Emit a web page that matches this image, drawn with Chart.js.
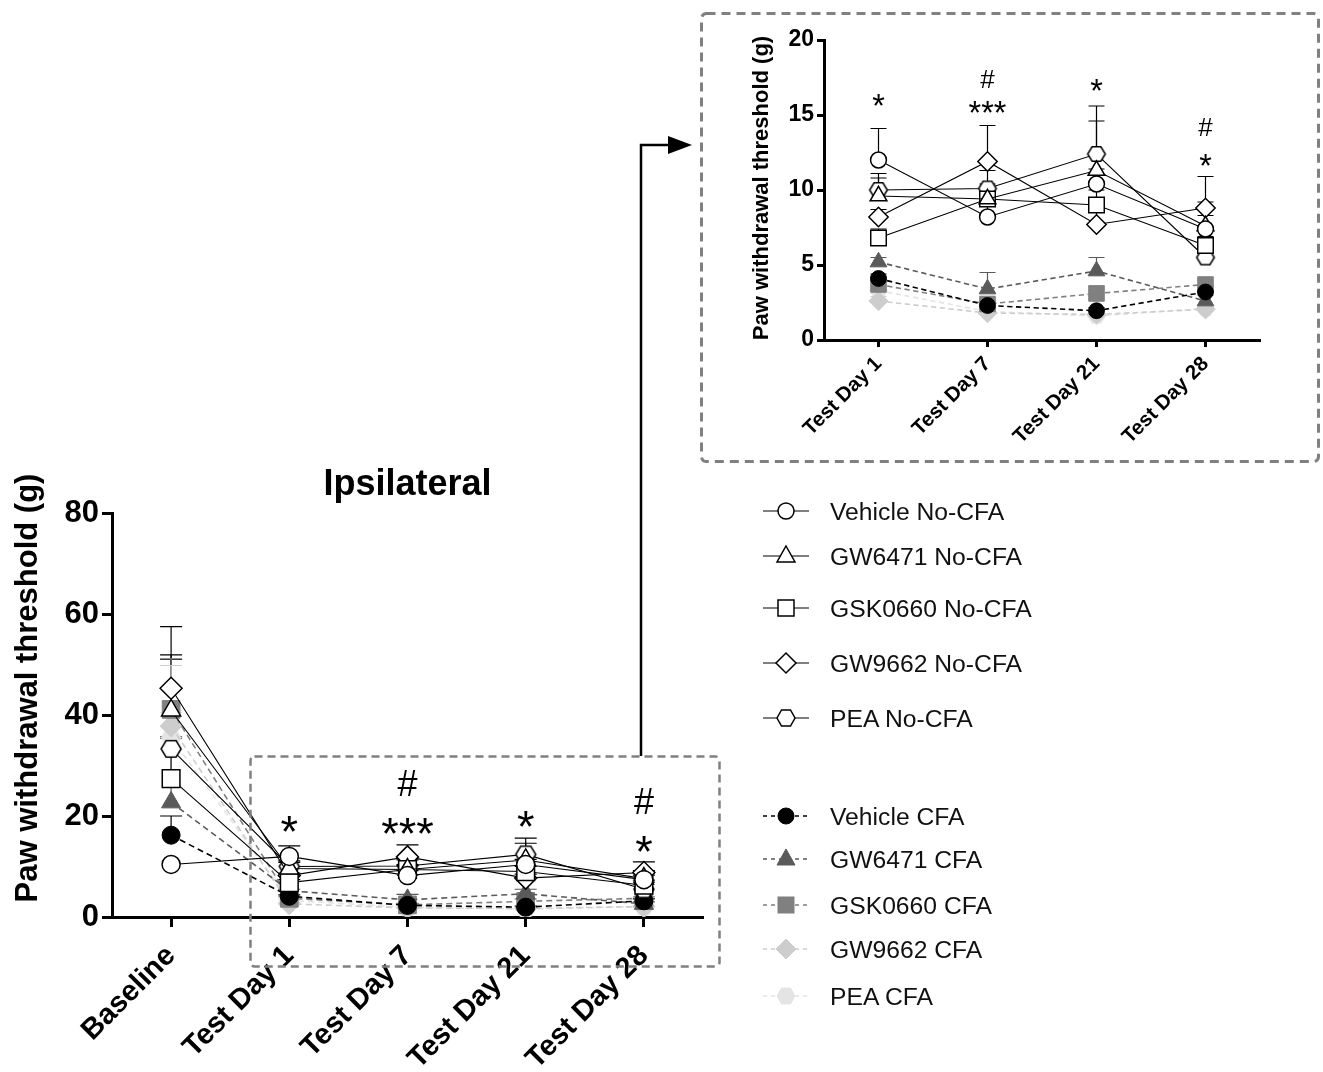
<!DOCTYPE html>
<html>
<head>
<meta charset="utf-8">
<script src="https://cdn.jsdelivr.net/npm/chart.js@4.4.0/dist/chart.umd.min.js"></script>
<style>
  body { margin: 0; background: #fff; }
  #page { position: relative; width: 1323px; height: 1072px; overflow: hidden; background: #fff; }
  #mainChart { position: absolute; left: 0; top: 440px; }
  #insetChart { position: absolute; left: 700px; top: 10px; }
  #deco { position: absolute; left: 0; top: 0; }
</style>
</head>
<body>
<div id="page">
  <canvas id="mainChart" width="720" height="632"></canvas>
  <canvas id="insetChart" width="622" height="455"></canvas>
  <svg id="deco" width="1323" height="1072" xmlns="http://www.w3.org/2000/svg">
    <rect x="701.5" y="13.5" width="617" height="448" rx="5" fill="none" stroke="#808080" stroke-width="3" stroke-dasharray="9 6"/>
    <rect x="250.5" y="756.5" width="469" height="210" rx="4" fill="none" stroke="#808080" stroke-width="2.5" stroke-dasharray="8 5"/>
    <polyline points="641,756 641,145 672,145" fill="none" stroke="#000" stroke-width="2.5"/>
    <polygon points="692,145 668,136 668,154" fill="#000"/>
    <g id="legend"></g>
  </svg>
</div>
<script>
const FONT = '"Liberation Sans", Arial, sans-serif';

// time points
const timepoints = ['Baseline', 'Test Day 1', 'Test Day 7', 'Test Day 21', 'Test Day 28'];

// group means (g)
const vehicleNoCfa = [10.4, 12.0, 8.2, 10.4, 7.4];
const gw6471NoCfa  = [40.9, 9.6, 9.4, 11.3, 7.6];
const gsk0660NoCfa = [27.4, 6.8, 9.4, 9.0, 6.3];
const gw9662NoCfa  = [45.3, 8.2, 11.9, 7.7, 8.8];
const peaNoCfa     = [33.3, 10.0, 10.1, 12.4, 5.5];
const vehicleCfa   = [16.2, 4.1, 2.3, 1.95, 3.2];
const gw6471Cfa    = [22.7, 5.2, 3.4, 4.6, 2.6];
const gsk0660Cfa   = [41.1, 3.7, 2.4, 3.1, 3.7];
const gw9662Cfa    = [37.8, 2.6, 1.8, 1.7, 2.05];
const peaCfa       = [35.5, 3.3, 1.9, 1.6, 2.1];

// upper error bars (SEM)
const vehicleNoCfaErr = [0, 2.1, 1.0, 1.0, 0.9];
const gw6471NoCfaErr  = [11.0, 1.5, 1.0, 3.3, 1.6];
const gsk0660NoCfaErr = [8.0, 0.6, 0.8, 1.0, 1.0];
const gw9662NoCfaErr  = [12.2, 0.5, 2.4, 0.8, 2.1];
const peaNoCfaErr     = [17.7, 0.8, 1.2, 3.2, 1.4];
const vehicleCfaErr   = [3.8, 0.3, 0.3, 0.2, 0.4];
const gw6471CfaErr    = [13.0, 0.3, 1.1, 0.9, 0.4];
const gsk0660CfaErr   = [10.0, 0.3, 0.3, 0.5, 0.3];
const gw9662CfaErr    = [12.0, 0.3, 0.2, 0.2, 0.2];
const peaCfaErr       = [5.0, 0.3, 0.2, 0.2, 0.2];

// significance marks per time point
const starMarks = ['', '*', '***', '*', '*'];
const hashMarks = ['', '', '#', '', '#'];

const groups = [
  {label: 'Vehicle No-CFA', mean: vehicleNoCfa, err: vehicleNoCfaErr, shape: 'circle',   color: '#000', fill: '#fff', dashed: false},
  {label: 'GW6471 No-CFA',  mean: gw6471NoCfa,  err: gw6471NoCfaErr,  shape: 'triangle', color: '#000', fill: '#fff', dashed: false},
  {label: 'GSK0660 No-CFA', mean: gsk0660NoCfa, err: gsk0660NoCfaErr, shape: 'rect',     color: '#000', fill: '#fff', dashed: false},
  {label: 'GW9662 No-CFA',  mean: gw9662NoCfa,  err: gw9662NoCfaErr,  shape: 'rectRot',  color: '#000', fill: '#fff', dashed: false},
  {label: 'PEA No-CFA',     mean: peaNoCfa,     err: peaNoCfaErr,     shape: 'hex',      color: '#000', fill: '#fff', dashed: false},
  {label: 'Vehicle CFA',    mean: vehicleCfa,   err: vehicleCfaErr,   shape: 'circle',   color: '#000', fill: '#000', dashed: true},
  {label: 'GW6471 CFA',     mean: gw6471Cfa,    err: gw6471CfaErr,    shape: 'triangle', color: '#5a5a5a', fill: '#5a5a5a', dashed: true},
  {label: 'GSK0660 CFA',    mean: gsk0660Cfa,   err: gsk0660CfaErr,   shape: 'rect',     color: '#808080', fill: '#808080', dashed: true},
  {label: 'GW9662 CFA',     mean: gw9662Cfa,    err: gw9662CfaErr,    shape: 'rectRot',  color: '#cdcdcd', fill: '#cdcdcd', dashed: true},
  {label: 'PEA CFA',        mean: peaCfa,       err: peaCfaErr,       shape: 'hex',      color: '#e4e4e4', fill: '#e4e4e4', dashed: true}
];

const radius = {circle: 9, triangle: 11, rect: 12.5, rectRot: 11, hex: 10};

function hexagon(r, fill, stroke, lw) {
  const s = Math.ceil(2 * r + lw + 2);
  const c = document.createElement('canvas');
  c.width = s; c.height = s;
  const g = c.getContext('2d');
  g.beginPath();
  for (let k = 0; k < 6; k++) {
    const a = Math.PI / 3 * k;
    const px = s / 2 + r * Math.cos(a), py = s / 2 + r * 0.95 * Math.sin(a);
    k ? g.lineTo(px, py) : g.moveTo(px, py);
  }
  g.closePath();
  g.fillStyle = fill; g.fill();
  g.lineWidth = lw; g.strokeStyle = stroke; g.stroke();
  return c;
}

function buildDatasets(from, s) {
  return groups.map(g => {
    const r = radius[g.shape] * s;
    const bw = g.dashed ? 1 : 1.5;
    return {
      label: g.label,
      data: g.mean.slice(from),
      err: g.err.slice(from),
      errColor: g.color,
      borderColor: g.color,
      borderWidth: g.dashed ? 1.6 : 1.1,
      borderDash: g.dashed ? [6 * s, 4 * s] : [],
      pointStyle: g.shape === 'hex' ? hexagon(r, g.fill, g.color, bw) : g.shape,
      pointRadius: r,
      pointBackgroundColor: g.fill,
      pointBorderColor: g.color,
      pointBorderWidth: bw,
      tension: 0,
      fill: false
    };
  });
}

const errorBars = {
  id: 'errorBars',
  beforeDatasetsDraw(chart, args, opts) {
    const ctx = chart.ctx, ys = chart.scales.y;
    chart.data.datasets.forEach((ds, di) => {
      const meta = chart.getDatasetMeta(di);
      ctx.save();
      ctx.strokeStyle = ds.errColor;
      ctx.lineWidth = opts.width;
      meta.data.forEach((pt, i) => {
        const e = ds.err[i];
        if (!e) return;
        const top = ys.getPixelForValue(ds.data[i] + e);
        ctx.beginPath();
        ctx.moveTo(pt.x, pt.y);
        ctx.lineTo(pt.x, top);
        ctx.moveTo(pt.x - opts.cap / 2, top);
        ctx.lineTo(pt.x + opts.cap / 2, top);
        ctx.stroke();
      });
      ctx.restore();
    });
  }
};

const textMarks = {
  id: 'textMarks',
  afterDatasetsDraw(chart, args, opts) {
    const ctx = chart.ctx, xs = chart.scales.x, ys = chart.scales.y, a = chart.chartArea;
    ctx.save();
    ctx.fillStyle = '#000';
    ctx.textAlign = 'center';
    ctx.textBaseline = 'alphabetic';
    opts.items.forEach(m => {
      const hash = m.text[0] === '#';
      const size = hash ? opts.size : opts.size * 1.25;
      ctx.font = size + 'px ' + FONT;
      ctx.fillText(m.text, xs.getPixelForValue(m.i), ys.getPixelForValue(m.y) + (hash ? 0.36 : 0.6) * size);
    });
    if (opts.title) {
      ctx.font = 'bold ' + opts.title.size + 'px ' + FONT;
      ctx.textBaseline = 'middle';
      ctx.fillText(opts.title.text, (a.left + a.right) / 2, opts.title.y);
    }
    const t = opts.yTitle;
    ctx.translate(t.x, (a.top + a.bottom) / 2 + t.shift);
    ctx.rotate(-Math.PI / 2);
    ctx.font = 'bold ' + t.size + 'px ' + FONT;
    ctx.textBaseline = 'middle';
    ctx.fillText(t.text, 0, 0);
    ctx.restore();
  }
};

function marksFrom(from, levelsStar, levelsHash) {
  const items = [];
  for (let i = from; i < timepoints.length; i++) {
    if (starMarks[i]) items.push({i: i - from, text: starMarks[i], y: levelsStar[i]});
    if (hashMarks[i]) items.push({i: i - from, text: hashMarks[i], y: levelsHash[i]});
  }
  return items;
}

function makeChart(id, o) {
  return new Chart(document.getElementById(id), {
    type: 'line',
    data: {labels: timepoints.slice(o.from), datasets: buildDatasets(o.from, o.scale)},
    options: {
      responsive: false,
      animation: false,
      layout: {padding: o.padding},
      plugins: {
        legend: {display: false},
        tooltip: {enabled: false},
        errorBars: {width: 1.2, cap: o.cap},
        textMarks: {size: o.markSize, items: o.marks, title: o.title, yTitle: o.yTitle}
      },
      scales: {
        x: {
          offset: true,
          grid: {offset: false, drawOnChartArea: false, tickLength: o.tickLen, tickWidth: 3, tickColor: '#000'},
          border: {width: 3, color: '#000'},
          ticks: {color: '#000', autoSkip: false, minRotation: 45, maxRotation: 45, padding: o.xPad,
                  font: {family: FONT, size: o.xFont, weight: 'bold'}},
          afterFit(s) { s.height = o.xHeight; }
        },
        y: {
          min: 0, max: o.yMax,
          grid: {drawOnChartArea: false, tickLength: o.tickLen, tickWidth: 3, tickColor: '#000'},
          border: {width: 3, color: '#000'},
          ticks: {stepSize: o.yStep, color: '#000', padding: 3, font: {family: FONT, size: o.yFont, weight: 'bold'}},
          afterFit(s) { s.width = o.yWidth; }
        }
      }
    },
    plugins: [errorBars, textMarks]
  });
}

makeChart('mainChart', {
  from: 0, scale: 1, cap: 22, markSize: 36, tickLen: 10, xPad: 12,
  padding: {top: 73, right: 17, left: 0, bottom: 0},
  xHeight: 155, yWidth: 112, yMax: 80, yStep: 20, xFont: 29, yFont: 31,
  marks: marksFrom(0, [0, 19.2, 18.8, 20.2, 15.2], [0, 0, 26.5, 0, 23]),
  title: {text: 'Ipsilateral', size: 36, y: 45},
  yTitle: {text: 'Paw withdrawal threshold (g)', size: 31, x: 28, shift: -27}
});

makeChart('insetChart', {
  from: 1, scale: 0.88, cap: 16, markSize: 26, tickLen: 7, xPad: 5,
  padding: {top: 30, right: 62, left: 0, bottom: 0},
  xHeight: 125, yWidth: 124, yMax: 20, yStep: 5, xFont: 20.5, yFont: 23,
  marks: marksFrom(1, [0, 16.2, 15.7, 17.2, 12.2], [0, 0, 17.4, 0, 14.2]),
  yTitle: {text: 'Paw withdrawal threshold (g)', size: 22, x: 62, shift: -2}
});

// legend
const legendRows = [511, 556, 608, 663, 718, 816, 859, 905, 949, 996];
const NS = 'http://www.w3.org/2000/svg';
const legend = document.getElementById('legend');
function el(tag, attrs) {
  const e = document.createElementNS(NS, tag);
  for (const k in attrs) e.setAttribute(k, attrs[k]);
  legend.appendChild(e);
  return e;
}
groups.forEach((g, i) => {
  const y = legendRows[i], cx = 786;
  el('line', {x1: 763, y1: y, x2: 809, y2: y, stroke: g.color, 'stroke-width': g.dashed ? 1.5 : 1.2,
              'stroke-dasharray': g.dashed ? '4 4' : 'none'});
  const st = {fill: g.fill, stroke: g.color, 'stroke-width': g.dashed ? 1 : 1.5};
  if (g.shape === 'circle') el('circle', Object.assign({cx, cy: y, r: 8}, st));
  else if (g.shape === 'rect') el('rect', Object.assign({x: cx - 8, y: y - 8, width: 16, height: 16}, st));
  else {
    let pts;
    if (g.shape === 'triangle') pts = [[0, -10], [9, 6], [-9, 6]];
    else if (g.shape === 'rectRot') pts = [[0, -10], [10, 0], [0, 10], [-10, 0]];
    else pts = [[-9, 0], [-4.5, -8], [4.5, -8], [9, 0], [4.5, 8], [-4.5, 8]];
    el('polygon', Object.assign({points: pts.map(p => (cx + p[0]) + ',' + (y + p[1])).join(' ')}, st));
  }
  const t = el('text', {x: 830, y: y + 8.8, 'font-family': FONT, 'font-size': 24.7, fill: '#111'});
  t.textContent = g.label;
});
</script>
</body>
</html>
